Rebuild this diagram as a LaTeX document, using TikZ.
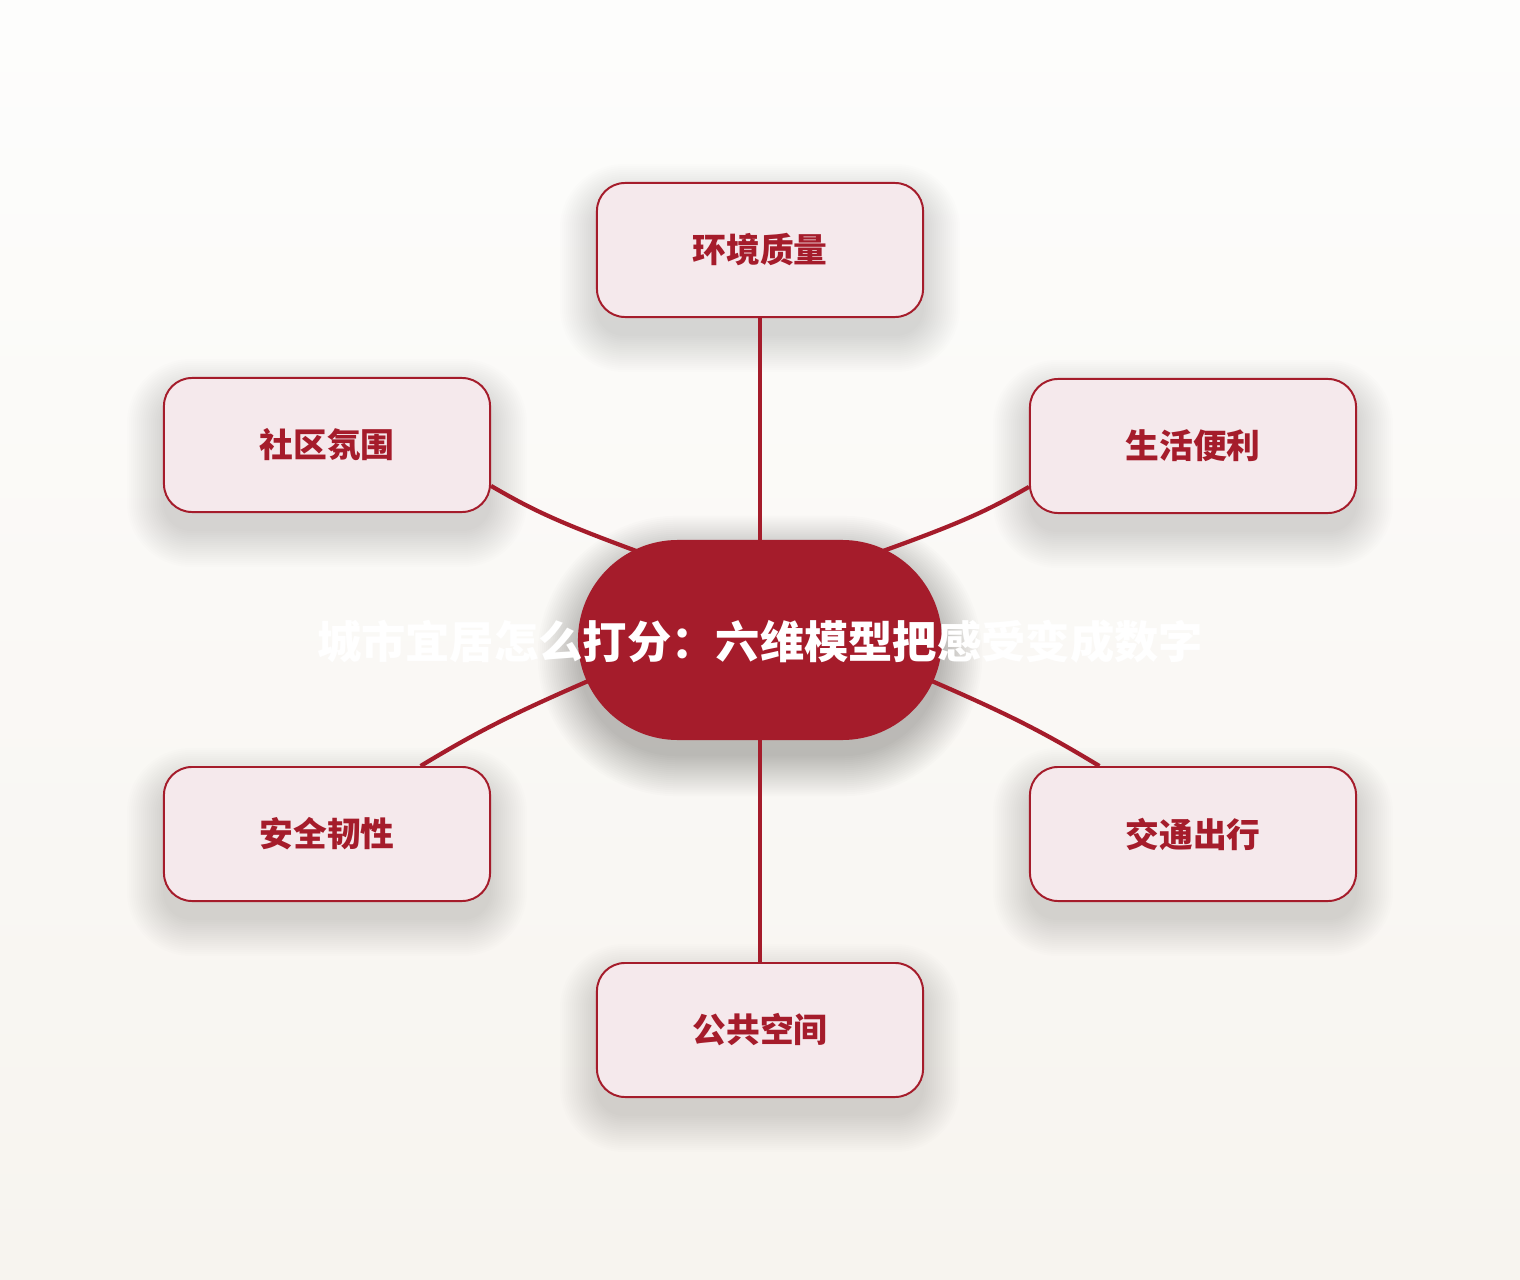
\documentclass[tikz,border=0pt]{standalone}
\usepackage{fontspec}
\newfontfamily\cjk{Noto Sans CJK SC}
\usetikzlibrary{calc}
\definecolor{hubred}{HTML}{A51C2B}
\definecolor{leafpink}{HTML}{F5E9EC}
\definecolor{bgtop}{HTML}{FDFDFC}
\definecolor{bgbottom}{HTML}{F7F4EF}
\pgfdeclarelayer{back}
\pgfdeclarelayer{shade}
\pgfdeclarelayer{links}
\pgfsetlayers{back,shade,links,main}

\begin{document}
\begin{tikzpicture}[x=0.025cm,y=-0.025cm,
  leaf/.style={draw=hubred,line width=1.4pt,fill=leafpink,rounded corners=0.7cm,
    minimum width=8.15cm,minimum height=3.35cm,text=hubred,
    font=\cjk\bfseries\fontsize{24}{28}\selectfont},
  hub/.style={fill=hubred,rounded corners=2.5cm,minimum width=9.1cm,minimum height=5cm},
  softshadow/.style={black,opacity=0.009},
  link/.style={draw=hubred,line width=3pt,shorten >=-1cm}]
  % canvas and background
  \useasboundingbox (0,0) rectangle (1520,1280);
  \begin{pgfonlayer}{back}
    \shade[top color=bgtop,bottom color=bgbottom] (0,0) rectangle (1520,1280);
  \end{pgfonlayer}

  % six dimensions
  \node[leaf] (env) at (760,250) {环境质量};
  \node[leaf] (comm) at (327,445) {社区氛围};
  \node[leaf] (life) at (1193,446) {生活便利};
  \node[leaf] (safe) at (327,834) {安全韧性};
  \node[leaf] (move) at (1193,834) {交通出行};
  \node[leaf] (pub) at (760,1030) {公共空间};

  % hub
  \node[hub] (c) at (760,640) {};
  \node[text=white,font=\cjk\bfseries\fontsize{31.5}{36}\selectfont] (title) at (760,642) {城市宜居怎么打分：六维模型把感受变成数字};

  % soft shadows
  \begin{pgfonlayer}{shade}
    \foreach \n in {env,comm,life,safe,move,pub}{
      \foreach \r in {0,2,...,36}{
        \pgfmathsetmacro{\rc}{0.7+\r*0.025}
        \fill[softshadow,rounded corners=\rc cm] ($(\n.north west)+(-\r,18-\r)$) rectangle ($(\n.south east)+(\r,18+\r)$);
      }
    }
    \foreach \r in {0,2,...,40}{
      \pgfmathsetmacro{\rc}{2.5+\r*0.025}
      \fill[softshadow,opacity=0.011,rounded corners=\rc cm] ($(c.north west)+(-\r,16-\r)$) rectangle ($(c.south east)+(\r,16+\r)$);
    }
  \end{pgfonlayer}

  % links (under the hub)
  \begin{pgfonlayer}{links}
    \draw[link] (env.south) -- (c.north);
    \draw[link] (pub.north) -- (c.south);
    \draw[link] (comm.-14) to[bend right=5] (c.147);
    \draw[link] (life.194) to[bend left=5] (c.33);
    \draw[link] (safe.36) to[bend left=4] (c.194);
    \draw[link] (move.144) to[bend right=4] (c.-14);
  \end{pgfonlayer}
\end{tikzpicture}
\end{document}
